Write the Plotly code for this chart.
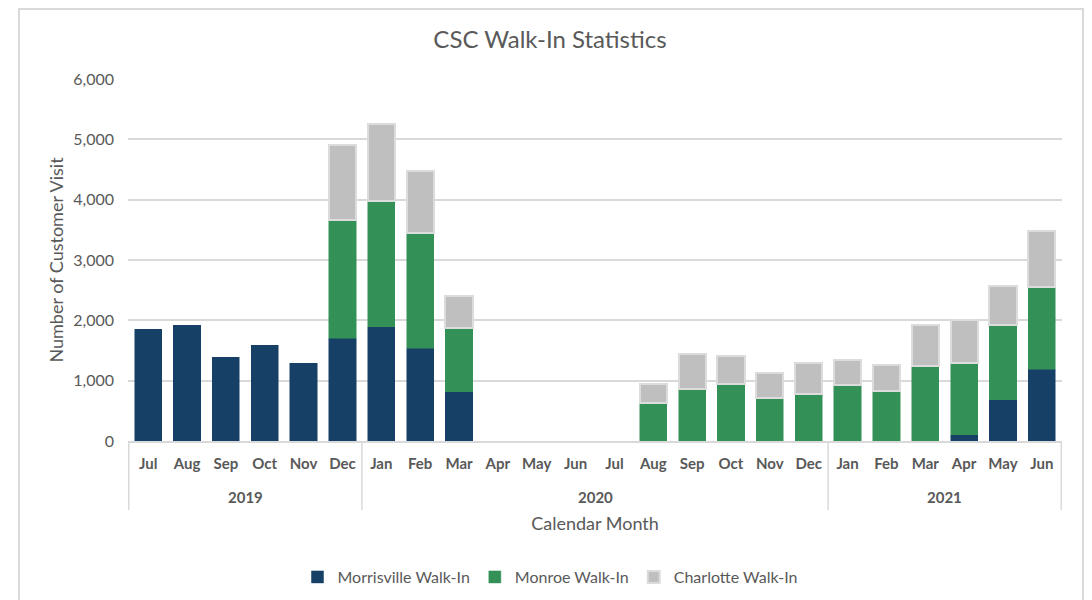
import plotly.graph_objects as go

years = ["2019"] * 6 + ["2020"] * 12 + ["2021"] * 6
months = ["Jul", "Aug", "Sep", "Oct", "Nov", "Dec",
          "Jan", "Feb", "Mar", "Apr", "May", "Jun", "Jul", "Aug", "Sep", "Oct", "Nov", "Dec",
          "Jan", "Feb", "Mar", "Apr", "May", "Jun"]

morrisville = [1855, 1915, 1385, 1590, 1290, 1700,
               1895, 1535, 815, None, None, None, None, None, None, None, None, None,
               None, None, None, 100, 680, 1190]
monroe = [None, None, None, None, None, 1960,
          2080, 1915, 1060, None, None, None, None, 635, 870, 950, 715, 775,
          935, 825, 1250, 1200, 1235, 1360]
charlotte = [None, None, None, None, None, 1250,
             1280, 1030, 525, None, None, None, None, 310, 570, 465, 415, 510,
             410, 430, 680, 700, 660, 930]

text_col = "#595959"
line_col = "#d9d9d9"
font_family = "Lato, 'Open Sans', sans-serif"

# one unique category per month, months shown as tick text
cats = [f"{m} {y}" for m, y in zip(months, years)]

fig = go.Figure()
fig.add_trace(go.Bar(x=cats, y=morrisville, name="Morrisville Walk-In",
                     marker=dict(color="#174066", line=dict(color="#174066", width=0.5))))
fig.add_trace(go.Bar(x=cats, y=monroe, name="Monroe Walk-In",
                     marker=dict(color="#339158", line=dict(color="#339158", width=0.5))))
fig.add_trace(go.Bar(x=cats, y=charlotte, name="Charlotte Walk-In",
                     marker=dict(color="#bfbfbf", line=dict(color="#dcdcdc", width=2))))

# the page body has an 8px margin, so the figure is drawn 8px in from the window
OFF = 8
W, H = 1092 - OFF, 600 - OFF
pl, pt = 128 - OFF, 79 - OFF
pr, pb = W - (1062 - OFF), H - (441 - OFF)
pw, ph = W - pl - pr, H - pt - pb

def py(pix):
    # window pixel row -> paper y
    return (H - pb - (pix - OFF)) / ph

def px(pix):
    # window pixel column -> paper x
    return (pix - OFF - pl) / pw

# outer chart frame, like the Excel chart border
fig.add_shape(type="rect", xref="paper", yref="paper",
              x0=px(19), x1=px(1083), y0=py(620), y1=py(9),
              line=dict(color=line_col, width=2), layer="below")

# year groups: dividers and labels under the month ticks
groups = []
for i, y in enumerate(years):
    if not groups or groups[-1][0] != y:
        groups.append([y, i, i])
    else:
        groups[-1][2] = i
for y, i0, i1 in groups:
    fig.add_annotation(x=(i0 + i1) / 2, xref="x", y=py(497), yref="paper", text=f"<b>{y}</b>",
                       showarrow=False, font=dict(size=15, color=text_col), yanchor="middle")
bounds = [g[1] - 0.5 for g in groups] + [groups[-1][2] + 0.5]
for b in bounds:
    fig.add_shape(type="line", xref="x", yref="paper", x0=b, x1=b, y0=0, y1=py(510),
                  line=dict(color=line_col, width=1.5))

fig.update_layout(
    barmode="stack",
    bargap=0.3,
    width=W,
    height=H,
    margin=dict(l=pl, r=pr, t=pt, b=pb, autoexpand=False),
    paper_bgcolor="white",
    plot_bgcolor="white",
    font=dict(family=font_family, color=text_col, size=15),
    title=dict(text="CSC Walk-In Statistics", x=(550 - OFF) / W, xref="container", xanchor="center",
               y=1 - (40 - OFF) / H, yref="container", yanchor="middle",
               font=dict(size=24, color=text_col)),
    legend=dict(orientation="h", x=px(550), xanchor="center", y=py(577), yanchor="middle",
                font=dict(size=16, color=text_col), traceorder="normal"),
)
fig.update_yaxes(range=[0, 6000], dtick=1000, tickformat=",", showgrid=True,
                 gridcolor=line_col, gridwidth=1.5, zeroline=False, showline=False,
                 ticks="", tickfont=dict(size=16), automargin=False, ticklabelstandoff=13,
                 title=dict(text="Number of Customer Visit", font=dict(size=18), standoff=4))
fig.update_xaxes(showline=True, linecolor=line_col, linewidth=1.5, ticks="",
                 tickmode="array", tickvals=cats, ticktext=months, tickangle=0,
                 tickfont=dict(size=15, weight="bold"), automargin=False, ticklabelstandoff=8,
                 title=dict(text="Calendar Month", font=dict(size=18), standoff=47))

fig.write_html("out.html")
